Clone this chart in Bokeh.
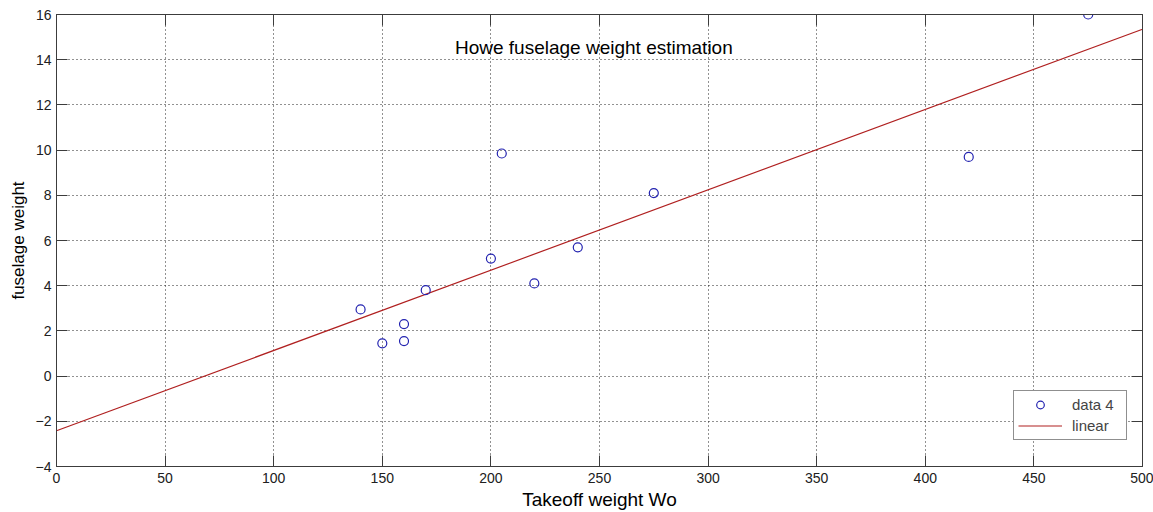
from bokeh.plotting import figure
from bokeh.models import (LinearAxis, Range1d, Label, Legend, LegendItem,
                          FixedTicker, CustomJSTickFormatter)
from bokeh.embed import file_html
from bokeh.resources import INLINE

# ---- data ----
takeoff_weight = [140, 150, 160, 160, 170, 200, 205, 220, 240, 275, 420, 475]
fuselage_weight = [2.95, 1.45, 2.3, 1.55, 3.8, 5.2, 9.85, 4.1, 5.7, 8.1, 9.7, 16.0]
fit_x = [0, 500]
fit_y = [-2.42, 15.35]
x_ticks = [0, 50, 100, 150, 200, 250, 300, 350, 400, 450, 500]
y_ticks = [-4, -2, 0, 2, 4, 6, 8, 10, 12, 14, 16]

FONT = "Liberation Sans"
TICKFONT = "Liberation Sans Narrow, Liberation Sans"
AX = "#3c3c3c"

p = figure(width=1153, height=512, x_range=Range1d(0, 500), y_range=Range1d(-4, 16),
           output_backend="svg", toolbar_location=None,
           min_border_left=56, min_border_right=11, min_border_top=14, min_border_bottom=44,
           background_fill_color="white", border_fill_color="white")
p.outline_line_color = AX

# main axes
for ax in (p.xaxis[0], p.yaxis[0]):
    ax.axis_line_color = AX
    ax.major_tick_line_color = AX
    ax.major_tick_in = 11
    ax.major_tick_out = 0
    ax.minor_tick_line_color = None
    ax.major_label_text_font = TICKFONT
    ax.major_label_text_font_size = "14px"
    ax.major_label_text_color = "#202020"
    ax.axis_label_text_font = FONT
    ax.axis_label_text_font_style = "normal"
    ax.axis_label_text_color = "black"

p.xaxis[0].ticker = FixedTicker(ticks=x_ticks)
p.yaxis[0].ticker = FixedTicker(ticks=y_ticks)
p.xaxis[0].axis_label = "Takeoff weight Wo"
p.yaxis[0].axis_label = "fuselage weight"
p.xaxis[0].axis_label_text_font_size = "19px"
p.yaxis[0].axis_label_text_font_size = "17px"
p.xaxis[0].major_label_standoff = 6
p.xaxis[0].axis_label_standoff = 3
p.yaxis[0].major_label_standoff = 5
p.yaxis[0].axis_label_standoff = 5

# ticks on top/right (box style)
blank = CustomJSTickFormatter(code="return '';")
top = LinearAxis(ticker=FixedTicker(ticks=x_ticks), formatter=blank)
right = LinearAxis(ticker=FixedTicker(ticks=y_ticks), formatter=blank)
for ax in (top, right):
    ax.axis_line_color = AX
    ax.major_tick_line_color = AX
    ax.major_tick_in = 11
    ax.major_tick_out = 0
    ax.minor_tick_line_color = None
    ax.major_label_text_font_size = "0px"
    ax.major_label_standoff = 0
p.add_layout(top, "above")
p.add_layout(right, "right")

# grid
for g in (p.xgrid[0], p.ygrid[0]):
    g.grid_line_color = "#222222"
    g.grid_line_dash = "1 3"
    g.grid_line_width = 1
p.xgrid[0].ticker = FixedTicker(ticks=x_ticks)
p.ygrid[0].ticker = FixedTicker(ticks=y_ticks)

# glyphs
r_line = p.line(fit_x, fit_y, line_color="#b02020", line_width=1.2)
r_pts = p.scatter(takeoff_weight, fuselage_weight, marker="circle", size=9,
                  fill_color=None, line_color="#2323b0", line_width=1.2)

# in-plot title
p.add_layout(Label(x=247.4, y=14.56, text="Howe fuselage weight estimation",
                   text_align="center", text_baseline="middle",
                   text_font=FONT, text_font_size="19px", text_color="black"))

legend = Legend(items=[LegendItem(label="data 4", renderers=[r_pts]),
                       LegendItem(label="linear", renderers=[r_line])],
                location=(957, 26), margin=0, padding=4, spacing=2,
                glyph_width=44, glyph_height=19, label_height=19, label_standoff=10,
                label_width=50,
                label_text_font=FONT, label_text_font_size="15px",
                border_line_color="#202020", border_line_width=1,
                background_fill_color="white", background_fill_alpha=1)
p.add_layout(legend)

open("out.html", "w").write(file_html(p, INLINE))
